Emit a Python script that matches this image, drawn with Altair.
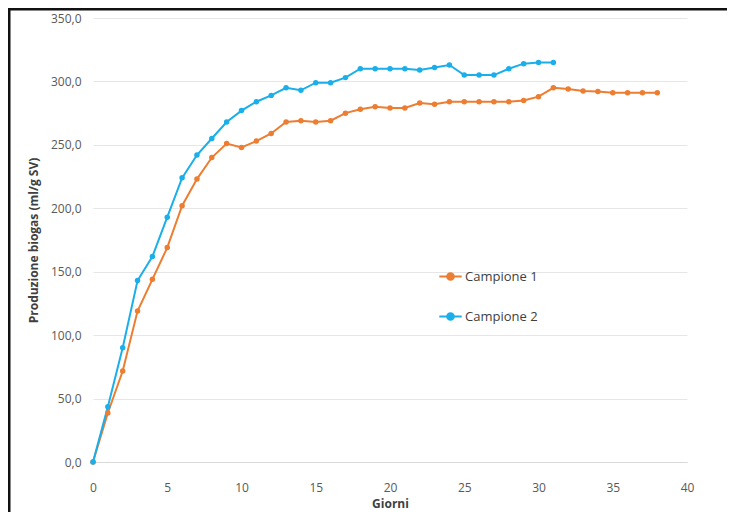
import altair as alt
import pandas as pd

days1 = list(range(0, 39))
campione1 = [0, 38.6, 71.7, 119, 144, 169, 202, 223, 240, 251, 248, 253, 259, 268, 269, 268, 269,
             275, 278, 280, 279, 279, 283, 282, 284, 284, 284, 284, 284, 285, 288, 295, 294, 292.5,
             292, 291, 291, 291, 291]
days2 = list(range(0, 32))
campione2 = [0, 43.5, 90, 143, 162, 193, 224, 242, 255, 268, 277, 284, 289, 295, 293, 299, 299,
             303, 310, 310, 310, 310, 309, 311, 313, 305, 305, 305, 310, 314, 315, 315]
series_names = ["Campione 1", "Campione 2"]
colors = ["#ED7D31", "#1AAFEA"]

df = pd.concat([
    pd.DataFrame({"Giorni": days1, "Valore": campione1, "Serie": series_names[0]}),
    pd.DataFrame({"Giorni": days2, "Valore": campione2, "Serie": series_names[1]}),
])

font = "Open Sans"
legend_symbol = "M -1 0 L -0.3 0 M 0.3 0 L 1 0 M -0.3 0 A 0.3 0.3 0 1 1 0.3 0 A 0.3 0.3 0 1 1 -0.3 0 Z"

lines = alt.Chart(df).mark_line(
    point=alt.OverlayMarkDef(filled=True, size=30), strokeWidth=2
).encode(
    x=alt.X("Giorni:Q", scale=alt.Scale(domain=[0, 40], nice=False),
            axis=alt.Axis(values=list(range(0, 41, 5)), title="Giorni", grid=False,
                          domain=True, domainColor="#D9D9D9", ticks=False, labelFlush=False,
                          labelPadding=20, titlePadding=5)),
    y=alt.Y("Valore:Q", scale=alt.Scale(domain=[0, 350], nice=False),
            axis=alt.Axis(values=list(range(0, 351, 50)), title="Produzione biogas (ml/g SV)",
                          labelExpr="replace(format(datum.value, '.1f'), '.', ',')",
                          grid=True, gridColor="#E6E6E6", domain=False, ticks=False,
                          labelPadding=12, titlePadding=10)),
    color=alt.Color("Serie:N", scale=alt.Scale(domain=series_names, range=colors),
                    legend=alt.Legend(title=None, orient="none", legendX=345, legendY=246,
                                      symbolType=legend_symbol, symbolSize=500,
                                      symbolStrokeWidth=2, rowPadding=20,
                                      labelFontSize=13, labelColor="#404040",
                                      labelFont=font, labelOffset=2)),
)

frame_left = alt.Chart(pd.DataFrame({"a": [0]})).mark_rule(color="#111111", strokeWidth=3).encode(
    x=alt.value(-84), y=alt.value(-12), y2=alt.value(494))
frame_top = alt.Chart(pd.DataFrame({"a": [0]})).mark_rule(color="#111111", strokeWidth=3).encode(
    x=alt.value(-86), x2=alt.value(634), y=alt.value(-9))

chart = alt.layer(lines, frame_left, frame_top).properties(
    width=594, height=444,
    padding={"left": 85, "top": 10, "right": 40, "bottom": 50},
    autosize=alt.AutoSizeParams(type="none"),
).configure_view(stroke=None).configure_axis(
    labelFont=font, titleFont=font, labelColor="#595959", titleColor="#404040",
    labelFontSize=12, titleFontSize=12, titleFontWeight="bold"
)

chart.save("out.html", embed_options={"renderer": "svg", "actions": False})
